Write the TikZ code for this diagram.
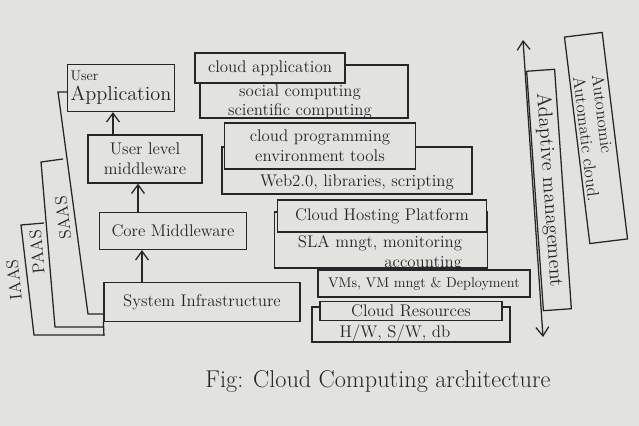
\documentclass[tikz,border=0pt]{standalone}
\usetikzlibrary{arrows.meta, calc}
\newlength\px
\setlength\px{0.025cm}
\definecolor{paper}{RGB}{226,226,223}
\definecolor{ink}{RGB}{38,38,40}

\begin{document}
\begin{tikzpicture}[
  x=0.025cm, y=-0.025cm,
  box/.style={draw=ink, line width=0.9pt, inner sep=2pt, font=\large, text=ink, align=center},
  txt/.style={text=ink, font=\large, align=center, inner sep=1pt},
  arr/.style={draw=ink, line width=0.9pt, -{Straight Barb[length=2.2mm, width=3.2mm]}},
  line/.style={draw=ink, line width=0.9pt}
]

% Paper
\fill[paper] (0,0) rectangle (639,426);
\useasboundingbox (0,0) rectangle (639,426);

% Left stack
\node[box, minimum width=107*\px, minimum height=47*\px, align=left] (userapp) at (121,88) {{\normalsize User}\\{\Large Application}};
\node[box, minimum width=114*\px, minimum height=48*\px] (usermw) at (145,159) {User level\\middleware};
\node[box, minimum width=147*\px, minimum height=37*\px] (coremw) at (173,231) {Core Middleware};
\node[box, minimum width=196*\px, minimum height=39*\px] (sysinfra) at (202,302) {System Infrastructure};
\coordinate (infrafoot) at (104,336);
\draw[line] (sysinfra.south west) -- (infrafoot);

% Arrows
\draw[arr] ($(sysinfra.north)+(-60,0)$) -- ($(coremw.south)+(-31,0)$);
\draw[arr] ($(coremw.north)+(-35,0)$) -- ($(usermw.south)+(-7,0)$);
\draw[arr] ($(usermw.north)+(-32,0)$) -- ($(userapp.south)+(-8,0)$);

% Right stack
\node[box, minimum width=208*\px, minimum height=53*\px] (appbox) at (304,91.5) {};
\node[txt] (apptext) at (300,102) {social computing\\scientific computing};
\node[box, fill=paper, minimum width=150*\px, minimum height=30*\px] (apphead) at (270,68) {cloud application};

\node[box, minimum width=250*\px, minimum height=47*\px] (progbox) at (347,170.5) {};
\node[txt] (progtext) at (357,182) {Web2.0, libraries, scripting};
\node[box, fill=paper, minimum width=191*\px, minimum height=46*\px] (proghead) at (320,146) {cloud programming\\environment tools};

\node[box, minimum width=213*\px, minimum height=56*\px] (hostbox) at (381,240) {};
\node[txt, align=right] (hosttext) at (380,253) {SLA mngt, monitoring\\accounting};
\node[box, fill=paper, minimum width=209*\px, minimum height=32*\px] (hosthead) at (382,216) {Cloud Hosting Platform};

\node[box, font=\normalsize, minimum width=212*\px, minimum height=27*\px] (vms) at (424,283.5) {VMs, VM mngt \& Deployment};

\node[box, minimum width=198*\px, minimum height=35*\px] (resbox) at (411,324.5) {};
\node[txt] (restext) at (395,333) {H/W, S/W, db};
\node[box, fill=paper, inner sep=0pt, minimum width=182*\px, minimum height=19*\px] (reshead) at (411,311) {Cloud Resources};

% Service layers
\coordinate (saastop) at (58,92);
\coordinate (saasbot) at (88,314);
\coordinate (saasend) at (104,314);
\coordinate (paastip) at (63,159);
\coordinate (paastop) at (41,162);
\coordinate (paasbot) at (55,327);
\coordinate (paasend) at (104,327);
\coordinate (iaastip) at (44,223);
\coordinate (iaastop) at (21,225);
\coordinate (iaasbot) at (34,335);
\coordinate (iaasend) at (104,335);
\draw[line] (userapp.west |- saastop) -- (saastop) -- (saasbot) -- (saasend);
\draw[line] (paastip) -- (paastop) -- (paasbot) -- (paasend);
\draw[line] (iaastip) -- (iaastop) -- (iaasbot) -- (iaasend);
\node[txt, rotate=97] (saas) at (63,218) {SAAS};
\node[txt, rotate=95] (paas) at (37,252) {PAAS};
\node[txt, rotate=96] (iaas) at (14,280) {IAAS};

% Management side
\coordinate (mgmttop) at (523,40);
\coordinate (mgmtbot) at (543,337);
\draw[line, {Straight Barb[length=2.2mm, width=3.2mm]}-{Straight Barb[length=2.2mm, width=3.2mm]}] (mgmttop) -- (mgmtbot);
\node[box, font=\Large, rotate=-86, minimum width=240*\px, minimum height=28*\px] (adaptive) at (549,190) {Adaptive management};
\node[box, font={\fontsize{12}{13.5}\selectfont}, inner sep=1pt, rotate=-83, minimum width=208*\px, minimum height=38*\px, align=left] (autonomic) at (596,138) {Autonomic\\Automatic cloud.};

% Caption
\node[txt, font=\LARGE] (caption) at (378,381) {Fig: Cloud Computing architecture};

\end{tikzpicture}
\end{document}
